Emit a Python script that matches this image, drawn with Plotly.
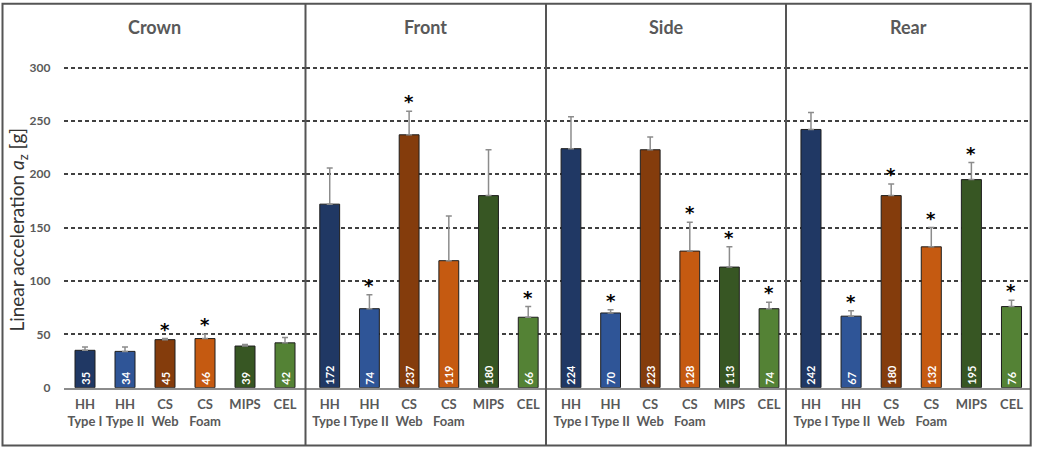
import plotly.graph_objects as go

W, H = 1037, 453

categories = ["HH<br>Type I", "HH<br>Type II", "CS<br>Web", "CS<br>Foam", "MIPS", "CEL"]
panels = ["Crown", "Front", "Side", "Rear"]
colors = ["#203864", "#2F5597", "#843C0C", "#C55A11", "#375623", "#548235"]

crown_vals = [35, 34, 45, 46, 39, 42]
front_vals = [172, 74, 237, 119, 180, 66]
side_vals = [224, 70, 223, 128, 113, 74]
rear_vals = [242, 67, 180, 132, 195, 76]

crown_err = [3, 4, 1, 4, 1.5, 5]
front_err = [34, 13, 22, 42, 43, 10]
side_err = [30, 3, 12, 27, 19, 6]
rear_err = [16, 5, 11, 18, 16, 6]

crown_sig = [0, 0, 1, 1, 0, 0]
front_sig = [0, 1, 1, 0, 0, 1]
side_sig = [0, 1, 0, 1, 1, 1]
rear_sig = [0, 1, 1, 1, 1, 1]

y_ticks = [0, 50, 100, 150, 200, 250, 300]

values = [crown_vals, front_vals, side_vals, rear_vals]
errors = [crown_err, front_err, side_err, rear_err]
sigs = [crown_sig, front_sig, side_sig, rear_sig]

FONT = "Lato"
GRAY = "#595959"

# vertical pixel -> paper fraction (calibrated to the rendered page)
S = 0.984
def py(ypx):
    return 1 - ypx / (H * S)

panel_px = [(63.5, 305.5), (305.5, 546), (546, 786), (786, 1030.7)]
panel_ranges = [(-0.5375, 5.5125), (-0.61, 5.448), (-0.631, 5.429), (-0.623, 5.479)]
frame_px = [(2.5, 305.5), (305.5, 546), (546, 786), (786, 1030.7)]

y0_px, y300_px = 387.3, 66.7
ppu = (y0_px - y300_px) / 300.0
ymax = 306
ytop_px = y0_px - ymax * ppu
ydom = [py(y0_px), py(ytop_px)]

fig = go.Figure()
xidx = list(range(6))
for i, (name, vals, errs, sig) in enumerate(zip(panels, values, errors, sigs)):
    ax = "" if i == 0 else str(i + 1)
    fig.add_trace(go.Bar(
        x=xidx, y=vals, width=0.5,
        marker=dict(color=colors, line=dict(color="#1e1e1e", width=1)),
        error_y=dict(type="data", symmetric=False, array=errs, arrayminus=[0] * 6,
                     color="#8c8c8c", thickness=1.5, width=3),
        text=[str(v) for v in vals], textposition="inside", insidetextanchor="start",
        textangle=-90, constraintext="none",
        insidetextfont=dict(color="white", size=11, family=FONT, weight="bold"),
        xaxis="x" + ax, yaxis="y" + ax, showlegend=False, hoverinfo="skip",
    ))
    lo, hi = panel_px[i]
    fig.layout["xaxis" + ax] = dict(
        domain=[lo / W, hi / W], range=list(panel_ranges[i]), anchor="y" + ax,
        tickmode="array", tickvals=xidx, ticktext=categories,
        tickfont=dict(family=FONT, size=13, color=GRAY, weight="bold"),
        showgrid=False, zeroline=False, showline=True, linecolor="#8c8c8c", linewidth=1.5,
        ticks="", ticklabelstandoff=4, fixedrange=True,
    )
    fig.layout["yaxis" + ax] = dict(
        domain=ydom, range=[0, ymax], anchor="x" + ax,
        tickmode="array", tickvals=y_ticks, showticklabels=(i == 0),
        tickfont=dict(family=FONT, size=12, color=GRAY, weight="bold"),
        showgrid=True, gridcolor="#404040", gridwidth=1.5, griddash="4px,3px",
        zeroline=False, showline=False, ticks="", ticklabelstandoff=12, fixedrange=True,
    )
    flo, fhi = frame_px[i]
    fig.add_annotation(x=(flo + fhi) / 2 / W, y=py(26), xref="paper", yref="paper",
                       xanchor="center", yanchor="middle",
                       text="<b>" + name + "</b>", showarrow=False,
                       font=dict(family=FONT, size=18, color=GRAY))
    for k in range(6):
        if sig[k]:
            fig.add_annotation(x=k, y=vals[k] + errs[k], xref="x" + ax, yref="y" + ax,
                               xanchor="center", text="*", showarrow=False,
                               yanchor="bottom", yshift=-3,
                               font=dict(family="DejaVu Sans", size=18, color="#000000",
                                         weight="bold"))

fig.add_annotation(x=18 / W, y=py(229), xref="paper", yref="paper",
                   xanchor="center", yanchor="middle",
                   text="Linear acceleration <i>a</i><sub>z</sub> [g]", textangle=-90,
                   showarrow=False, font=dict(family=FONT, size=19, color="#333333"))

fy_top, fy_bot = py(2.7), max(py(447), 0.5 / H)
shapes = [dict(type="rect", xref="paper", yref="paper", x0=2.5 / W, x1=1030.7 / W,
               y0=fy_bot, y1=fy_top, line=dict(color="#555555", width=2))]
for xd in [305.5, 546, 786]:
    shapes.append(dict(type="line", xref="paper", yref="paper", x0=xd / W, x1=xd / W,
                       y0=fy_bot, y1=fy_top, line=dict(color="#555555", width=2)))
fig.update_layout(shapes=shapes)

fig.update_layout(
    width=W, height=H, margin=dict(l=0, r=0, t=0, b=0),
    paper_bgcolor="white", plot_bgcolor="rgba(0,0,0,0)",
    bargap=0.5, font=dict(family=FONT),
)
post = ("document.documentElement.style.margin='0';document.body.style.margin='0';"
        "document.body.style.background='#d4d4d4';document.documentElement.style.background='#d4d4d4';")
fig.write_html("out.html", config={"displayModeBar": False}, post_script=post)
